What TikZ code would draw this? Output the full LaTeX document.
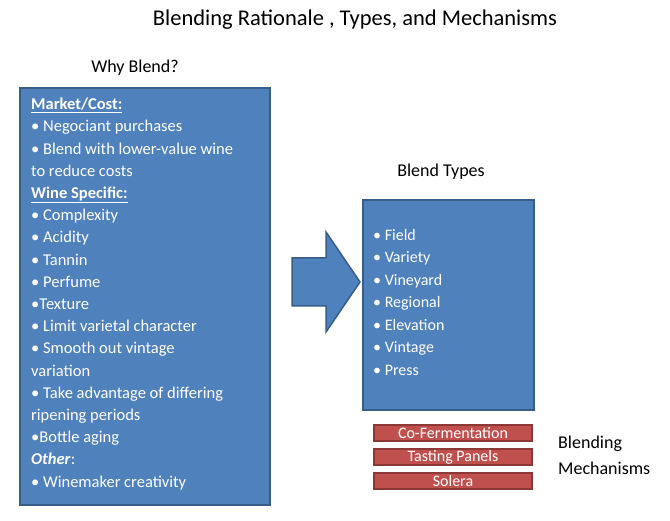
\documentclass[tikz,border=0pt]{standalone}
\usepackage{fontspec}
\setmainfont{Carlito}
\definecolor{boxblue}{HTML}{4F81BD}
\definecolor{boxedge}{HTML}{385D8A}
\definecolor{barred}{HTML}{C0504D}
\definecolor{baredge}{HTML}{8C3836}
\tikzset{
  panel/.style={draw=boxedge, line width=1.5pt, fill=boxblue},
  bar/.style={draw=baredge, line width=1.2pt, fill=barred, minimum width=158pt, minimum height=16pt, text=white, font=\fontsize{16}{16}\selectfont, inner sep=0pt},
  lbl/.style={font=\fontsize{18}{20}\selectfont, inner sep=0pt},
  bodytext/.style={text=white, align=left, anchor=north west, inner sep=0pt, font=\fontsize{16.5}{22.2}\selectfont}
}
\begin{document}
\begin{tikzpicture}[x=1pt,y=-1pt]
\useasboundingbox (0,0) rectangle (670,521);
\node[lbl, font=\fontsize{22.5}{24}\selectfont] (title) at (355,20) {Blending Rationale , Types, and Mechanisms};
\node[lbl] (why) at (135,68) {Why Blend?};
\path[panel] (20,88) rectangle (270,505);
\node[bodytext] (left) at (31,98) {\textbf{\underline{Market/Cost:}}\\
• Negociant purchases\\
• Blend with lower-value wine\\
to reduce costs\\
\textbf{\underline{Wine Specific:}}\\
• Complexity\\
• Acidity\\
• Tannin\\
• Perfume\\
•Texture\\
• Limit varietal character\\
• Smooth out vintage\\
variation\\
• Take advantage of differing\\
ripening periods\\
•Bottle aging\\
\textbf{\textit{Other}}:\\
• Winemaker creativity};
\path[panel] (292,258) -- (326,258) -- (326,232) -- (360,282) -- (326,332) -- (326,306) -- (292,306) -- cycle;
\node[lbl] (types) at (441,172) {Blend Types};
\path[panel] (363,200) rectangle (534,410);
\node[bodytext, font=\fontsize{16}{22.5}\selectfont] (right) at (373,229) {• Field\\ • Variety\\ • Vineyard\\ • Regional\\ • Elevation\\ • Vintage\\ • Press};
\node[bar] (b1) at (453,433) {Co-Fermentation};
\node[bar] (b2) at (453,457) {Tasting Panels};
\node[bar] (b3) at (453,481) {Solera};
\node[lbl, anchor=west] (m1) at (558,444) {Blending};
\node[lbl, anchor=west] (m2) at (558,468) {Mechanisms};
\end{tikzpicture}
\end{document}
